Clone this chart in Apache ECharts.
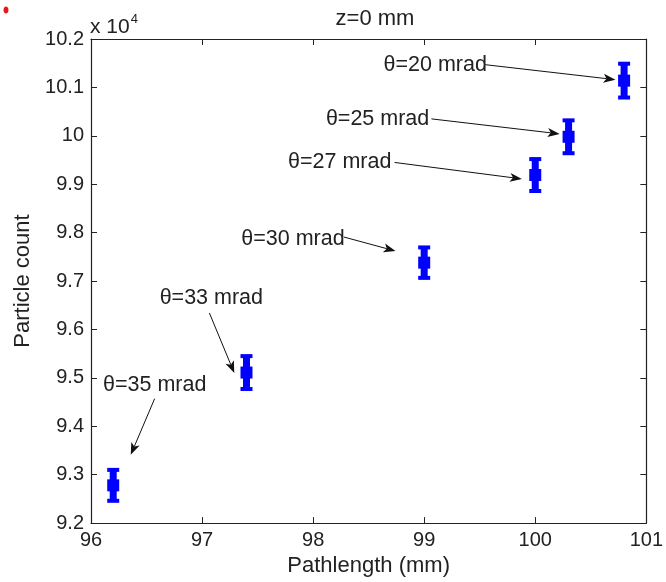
<!DOCTYPE html>
<html>
<head>
<meta charset="utf-8">
<script src="https://cdn.jsdelivr.net/npm/echarts@6/dist/echarts.min.js"></script>
<style>
html,body{margin:0;padding:0;background:#fff;}
#chart{width:666px;height:582px;}
</style>
</head>
<body>
<div id="chart"></div>
<script>
// Data
const pathlength = [96.2, 97.4, 99.0, 100.0, 100.3, 100.8];
const particleCount = [92780, 95110, 97380, 99190, 99980, 101140];
const countError = [340, 360, 335, 350, 360, 370];
const angleLabels = ['θ=35 mrad', 'θ=33 mrad', 'θ=30 mrad', 'θ=27 mrad', 'θ=25 mrad', 'θ=20 mrad'];
// annotation anchors in data units: text left x, text y, arrow start x, y, arrow tip x, y
const labelX = [96.108, 96.618, 97.353, 97.774, 98.115, 98.634];
const labelY = [94850, 96640, 97870, 99450, 100350, 101470];
const arrowStartX = [96.573, 97.066, 98.276, 98.733, 99.065, 99.548];
const arrowStartY = [94570, 96340, 97910, 99450, 100350, 101470];
const arrowTipX = [96.358, 97.290, 98.742, 99.880, 100.220, 100.722];
const arrowTipY = [93410, 95100, 97620, 99110, 100040, 101160];
const xTicks = {min: 96, max: 101, interval: 1};
const yTicks = {min: 92000, max: 102000, interval: 1000};

const FONT = 'Liberation Sans, Arial, Helvetica, sans-serif';
const AXIS_COLOR = '#222';

const errData = pathlength.map((x, i) => [x, particleCount[i], countError[i]]);
const annData = angleLabels.map((t, i) => [labelX[i], labelY[i], arrowStartX[i], arrowStartY[i], arrowTipX[i], arrowTipY[i], i]);

const chart = echarts.init(document.getElementById('chart'), null, {renderer: 'canvas'});

function yFmt(v) { return String(parseFloat((v / 1e4).toFixed(1))); }

const baseAxisLine = {show: true, lineStyle: {color: AXIS_COLOR, width: 1.2}};
const baseTick = {show: true, inside: true, length: 6, lineStyle: {color: AXIS_COLOR, width: 1}};

const option = {
  animation: false,
  backgroundColor: '#fff',
  title: {
    text: 'z=0 mm', left: 370, top: 3, textAlign: 'center',
    textStyle: {fontFamily: FONT, fontSize: 22, fontWeight: 'normal', color: '#222'}
  },
  grid: {left: 91, right: 17, top: 39, bottom: 51, containLabel: false},
  xAxis: [{
    type: 'value', min: xTicks.min, max: xTicks.max, interval: xTicks.interval,
    position: 'bottom',
    name: 'Pathlength (mm)', nameLocation: 'middle', nameGap: 27,
    nameTextStyle: {fontFamily: FONT, fontSize: 22, color: '#222'},
    axisLine: baseAxisLine, axisTick: baseTick,
    axisLabel: {fontFamily: FONT, fontSize: 20, color: '#222', margin: 7},
    splitLine: {show: false}
  }, {
    type: 'value', min: xTicks.min, max: xTicks.max, interval: xTicks.interval,
    position: 'top', axisLine: baseAxisLine, axisTick: baseTick,
    axisLabel: {show: false}, splitLine: {show: false}
  }],
  yAxis: [{
    type: 'value', min: yTicks.min, max: yTicks.max, interval: yTicks.interval,
    position: 'left',
    name: 'Particle count', nameLocation: 'middle', nameGap: 54, nameRotate: 90,
    nameTextStyle: {fontFamily: FONT, fontSize: 22, color: '#222'},
    axisLine: baseAxisLine, axisTick: baseTick,
    axisLabel: {fontFamily: FONT, fontSize: 20, color: '#222', margin: 7, formatter: yFmt},
    splitLine: {show: false}
  }, {
    type: 'value', min: yTicks.min, max: yTicks.max, interval: yTicks.interval,
    position: 'right', axisLine: baseAxisLine, axisTick: baseTick,
    axisLabel: {show: false}, splitLine: {show: false}
  }],
  graphic: [
    {type: 'text', left: 90, top: 13, style: {
      text: '{b|x 10}{s|4}', fontFamily: FONT,
      rich: {b: {fontSize: 21, fontFamily: FONT, fill: '#222', verticalAlign: 'bottom'},
             s: {fontSize: 13, fontFamily: FONT, fill: '#222', verticalAlign: 'top', padding: [0, 0, 12, 1]}}
    }},
    {type: 'ellipse', shape: {cx: 6, cy: 10, rx: 2.5, ry: 3.5}, style: {fill: '#e8141b'}}
  ],
  series: [{
    type: 'custom',
    name: 'counts',
    xAxisIndex: 0, yAxisIndex: 0,
    data: errData,
    encode: {x: 0, y: 1},
    clip: false,
    renderItem: function (params, api) {
      const x = api.value(0), y = api.value(1), e = api.value(2);
      const c = api.coord([x, y]);
      const t = api.coord([x, y + e]);
      const b = api.coord([x, y - e]);
      const blue = '#0000ff';
      return {
        type: 'group',
        children: [
          {type: 'rect', shape: {x: c[0] - 3.5, y: t[1], width: 7, height: b[1] - t[1]}, style: {fill: blue}},
          {type: 'rect', shape: {x: c[0] - 6, y: t[1] - 1, width: 12, height: 4}, style: {fill: blue}},
          {type: 'rect', shape: {x: c[0] - 6, y: b[1] - 3, width: 12, height: 4}, style: {fill: blue}},
          {type: 'rect', shape: {x: c[0] - 6, y: c[1] - 6, width: 12, height: 12}, style: {fill: blue}}
        ]
      };
    }
  }, {
    type: 'custom',
    name: 'annotations',
    xAxisIndex: 0, yAxisIndex: 0,
    data: annData,
    encode: {x: 0, y: 1},
    clip: false,
    z: 5,
    renderItem: function (params, api) {
      const i = api.value(6);
      const tp = api.coord([api.value(0), api.value(1)]);
      const s = api.coord([api.value(2), api.value(3)]);
      const e = api.coord([api.value(4), api.value(5)]);
      const dx = e[0] - s[0], dy = e[1] - s[1];
      const L = Math.sqrt(dx * dx + dy * dy);
      const ux = dx / L, uy = dy / L;
      const hl = 12, hw = 4.5;
      const bx = e[0] - ux * hl, by = e[1] - uy * hl;
      const nx = -uy, ny = ux;
      return {
        type: 'group',
        children: [
          {type: 'line', shape: {x1: s[0], y1: s[1], x2: bx + ux * 3, y2: by + uy * 3},
            style: {stroke: '#111', lineWidth: 1}},
          {type: 'polygon', shape: {points: [[e[0], e[1]], [bx + nx * hw, by + ny * hw], [bx + ux * 3, by + uy * 3], [bx - nx * hw, by - ny * hw]]},
            style: {fill: '#111'}},
          {type: 'text', x: tp[0], y: tp[1], style: {
            text: angleLabels[i], fontFamily: FONT, fontSize: 21.5, fill: '#222',
            textAlign: 'left', textVerticalAlign: 'middle'}}
        ]
      };
    }
  }]
};
chart.setOption(option);
</script>
</body>
</html>
